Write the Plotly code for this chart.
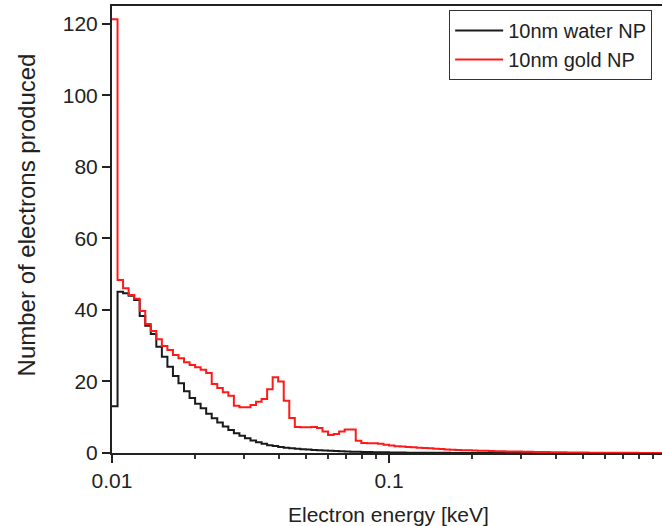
import numpy as np
import plotly.graph_objects as go

# Histogram binning: 50 log-spaced bins per decade from 0.01 keV to 1 keV
bins_per_decade = 50
n_bins = 100
bin_edges_keV = [10 ** (-2 + k / bins_per_decade) for k in range(n_bins + 1)]

water_counts = [
    13.1, 45.1, 44.7, 44.0, 42.8, 38.3, 35.6, 33.3, 29.7, 26.9,
    24.1, 21.5, 19.5, 17.3, 15.4, 13.8, 12.5, 11.0, 9.7, 8.5,
    7.4, 6.4, 5.5, 4.8, 4.1, 3.5, 3.0, 2.6, 2.2, 1.95,
    1.7, 1.5, 1.35, 1.2, 1.05, 0.95, 0.85, 0.76, 0.68, 0.6,
    0.54, 0.48, 0.43, 0.38, 0.34, 0.3, 0.27, 0.24, 0.21, 0.18,
    0.16, 0.14, 0.12, 0.1, 0.09, 0.08, 0.07, 0.06, 0.05, 0.04,
    0.04, 0.03, 0.03, 0.02, 0.02, 0.02, 0.01, 0.01, 0.01, 0.01,
    0.01, 0.01, 0.01, 0.01, 0.01, 0.0, 0.0, 0.0, 0.0, 0.0,
    0.0, 0.0, 0.0, 0.0, 0.0, 0.0, 0.0, 0.0, 0.0, 0.0,
    0.0, 0.0, 0.0, 0.0, 0.0, 0.0, 0.0, 0.0, 0.0, 0.0,
]

gold_counts = [
    121.3, 48.4, 46.1, 44.2, 43.1, 39.7, 36.1, 34.1, 31.8, 29.9,
    28.8, 27.4, 26.5, 25.4, 24.6, 24.0, 23.3, 22.4, 19.3, 18.2,
    17.0, 16.0, 13.2, 12.8, 12.8, 13.4, 14.3, 15.1, 17.8, 21.2,
    20.0, 14.6, 9.8, 7.3, 7.2, 7.2, 7.3, 7.0, 6.0, 5.0,
    5.3, 6.0, 6.6, 6.6, 3.4, 2.8, 2.7, 2.7, 2.6, 2.3,
    2.1, 1.9, 1.8, 1.7, 1.6, 1.5, 1.4, 1.3, 1.2, 1.1,
    1.0, 0.9, 0.85, 0.8, 0.75, 0.7, 0.65, 0.6, 0.55, 0.5,
    0.48, 0.45, 0.42, 0.4, 0.37, 0.34, 0.31, 0.28, 0.25, 0.22,
    0.2, 0.18, 0.16, 0.14, 0.12, 0.11, 0.1, 0.09, 0.08, 0.07,
    0.06, 0.05, 0.05, 0.04, 0.04, 0.03, 0.03, 0.02, 0.02, 0.02,
]

series_names = ["10nm water NP", "10nm gold NP"]
series_colors = ["#1a1a1a", "#ff1a1a"]

x_major_ticks = [0.01, 0.1, 1]
x_major_labels = ["0.01", "0.1", "1"]
x_minor_ticks = [m * d for d in (0.01, 0.1) for m in range(2, 10)]
y_ticks = [0, 20, 40, 60, 80, 100, 120]

font_family = "Arial, Liberation Sans, sans-serif"
text_color = "#222222"

fig = go.Figure()
for name, counts, color in zip(series_names, [water_counts, gold_counts], series_colors):
    fig.add_trace(go.Scatter(
        x=bin_edges_keV,
        y=counts + [counts[-1]],
        mode="lines",
        line=dict(shape="hv", color=color, width=2),
        name=name,
    ))

fig.update_layout(
    width=662,
    height=526,
    margin=dict(l=112, r=0, t=6, b=73),
    paper_bgcolor="white",
    plot_bgcolor="white",
    font=dict(family=font_family, color=text_color, size=21),
    showlegend=True,
    legend=dict(
        x=0.613, y=0.991, xanchor="left", yanchor="top",
        bgcolor="white", bordercolor="#333333", borderwidth=1,
        font=dict(size=20, family=font_family, color=text_color),
        itemwidth=48, tracegroupgap=0, entrywidth=220,
    ),
    xaxis=dict(
        type="log",
        range=[-2, -2 + 550 / 277],
        tickvals=x_major_ticks,
        ticktext=x_major_labels,
        ticks="outside",
        ticklen=8,
        tickwidth=2,
        tickcolor="#222222",
        showline=True,
        linecolor="#222222",
        linewidth=2,
        mirror=True,
        showgrid=False,
        zeroline=False,
        tickfont=dict(size=21),
        minor=dict(tickvals=x_minor_ticks, ticks="outside", ticklen=4,
                   tickwidth=1.5, tickcolor="#333333", showgrid=False),
    ),
    yaxis=dict(
        range=[0, 125],
        tickvals=y_ticks,
        ticks="outside",
        ticklen=8,
        tickwidth=2,
        tickcolor="#222222",
        showline=True,
        linecolor="#222222",
        linewidth=2,
        showgrid=False,
        zeroline=False,
        tickfont=dict(size=21),
    ),
    annotations=[
        dict(text="Electron energy [keV]", xref="paper", yref="paper",
             x=0.5036, y=-0.1387, xanchor="center", yanchor="middle",
             showarrow=False, font=dict(size=21, family=font_family, color=text_color)),
        dict(text="Number of electrons produced", xref="paper", yref="paper",
             x=-0.156, y=0.532, xanchor="center", yanchor="middle", textangle=-90,
             showarrow=False, font=dict(size=24, family=font_family, color=text_color)),
    ],
)

fig.write_html("out.html")
